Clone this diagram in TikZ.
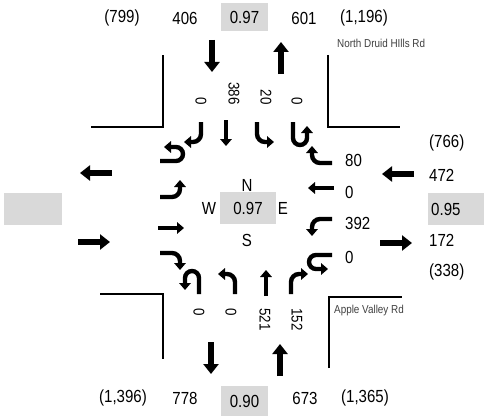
\documentclass[tikz,border=0pt]{standalone}
\usepackage{fontspec}
\setmainfont{Liberation Sans}[FakeStretch=0.86]
\usetikzlibrary{arrows.meta}

\begin{document}
\begin{tikzpicture}[x=1pt,y=1pt,
  move/.style={line width=4.4pt, -{Triangle[length=7pt,width=11.5pt]}},
  leg/.style={line width=6.5pt, -{Triangle[length=10pt,width=15pt]}},
  curb/.style={line width=1.4pt},
  lbl/.style={font=\fontsize{17.5}{20}\selectfont, inner sep=1pt},
  cnt/.style={font=\fontsize{15.5}{18}\selectfont, inner sep=1pt, rotate=-90},
  road/.style={font=\fontsize{11.5}{14}\selectfont, text=black!75, inner sep=0pt},
  phfbox/.style={lbl, fill=black!15, minimum height=30pt}]
\path[use as bounding box, fill=white] (0,0) rectangle (484,416);

% Curb corners
\draw[curb] (91,289) -- (163,289) -- (163,361);
\draw[curb] (328,361) -- (328,289) -- (400,289);
\draw[curb] (100,122) -- (163,122) -- (163,57);
\draw[curb] (329,48) -- (329,119) -- (402,119);

% North leg (southbound)
\begin{scope}[shift={(246,208)}]
  \draw[leg] (-34,168) -- (-34,136);
  \draw[leg] (35,134) -- (35,166);
  \draw[move, rounded corners=8pt] (-45,86) -- (-45,66) -- (-62,66);
  \draw[move] (-20,88) -- (-20,62);
  \draw[move, rounded corners=8pt] (11,86) -- (11,66) -- (28,66);
  \draw[move] (47,86) -- (47,70) arc[start angle=180, end angle=360, radius=7] -- (61,82);
\end{scope}

% East leg (westbound)
\begin{scope}[shift={(246,208)}, rotate=-90]
  \draw[leg] (-34,168) -- (-34,136);
  \draw[leg] (35,134) -- (35,166);
  \draw[move, rounded corners=8pt] (-45,86) -- (-45,66) -- (-62,66);
  \draw[move] (-20,88) -- (-20,62);
  \draw[move, rounded corners=8pt] (11,86) -- (11,66) -- (28,66);
  \draw[move] (47,86) -- (47,70) arc[start angle=180, end angle=360, radius=7] -- (61,82);
\end{scope}

% South leg (northbound)
\begin{scope}[shift={(246,208)}, rotate=180]
  \draw[leg] (-34,168) -- (-34,136);
  \draw[leg] (35,134) -- (35,166);
  \draw[move, rounded corners=8pt] (-45,86) -- (-45,66) -- (-62,66);
  \draw[move] (-20,88) -- (-20,62);
  \draw[move, rounded corners=8pt] (11,86) -- (11,66) -- (28,66);
  \draw[move] (47,86) -- (47,70) arc[start angle=180, end angle=360, radius=7] -- (61,82);
\end{scope}

% West leg (eastbound)
\begin{scope}[shift={(246,208)}, rotate=90]
  \draw[leg] (-34,168) -- (-34,136);
  \draw[leg] (35,134) -- (35,166);
  \draw[move, rounded corners=8pt] (-45,86) -- (-45,66) -- (-62,66);
  \draw[move] (-20,88) -- (-20,62);
  \draw[move, rounded corners=8pt] (11,86) -- (11,66) -- (28,66);
  \draw[move] (47,86) -- (47,70) arc[start angle=180, end angle=360, radius=7] -- (61,82);
\end{scope}

% Top volumes
\node[lbl] (nTot) at (122,398) {(799)};
\node[lbl] (nEnter) at (185,398) {406};
\node[phfbox, minimum width=47pt, minimum height=28pt] (nPhf) at (244.5,399) {0.97};
\node[lbl] (nExit) at (304,398) {601};
\node[lbl] (nTot2) at (364,398) {(1,196)};
\node[road, anchor=west] (nRoad) at (337,373) {North Druid HIlls Rd};

% Bottom volumes
\node[lbl] (sTot) at (123,18) {(1,396)};
\node[lbl] (sExit) at (185,18) {778};
\node[phfbox, minimum width=47pt] (sPhf) at (244.5,15) {0.90};
\node[lbl] (sEnter) at (305,18) {673};
\node[lbl] (sTot2) at (365,18) {(1,365)};
\node[road, anchor=west] (sRoad) at (334,105) {Apple Valley Rd};

% Right volumes
\node[lbl, anchor=west] (eTot) at (428,273) {(766)};
\node[lbl, anchor=west] (eEnter) at (428,241) {472};
\node[phfbox, anchor=west, text width=50pt, inner xsep=3pt, minimum height=32pt] (ePhf) at (428,207) {0.95};
\node[lbl, anchor=west] (eExit) at (428,176) {172};
\node[lbl, anchor=west] (eTot2) at (428,144) {(338)};

% Left
\node[phfbox, minimum width=58pt, minimum height=32pt] (wPhf) at (33,207) {};

% Centre
\node[phfbox, minimum width=56pt, minimum height=32pt] (cPhf) at (248,208) {0.97};
\node[lbl] (cN) at (247,231) {N};
\node[lbl] (cW) at (209,208) {W};
\node[lbl] (cE) at (283,208) {E};
\node[lbl] (cS) at (247,176) {S};

% Turning counts
\node[cnt, anchor=east] (nR) at (201,310) {0};
\node[cnt, anchor=east] (nT) at (234,310) {386};
\node[cnt, anchor=east] (nL) at (266,310) {20};
\node[cnt, anchor=east] (nU) at (297,310) {0};
\node[cnt, anchor=west] (sU) at (199,109) {0};
\node[cnt, anchor=west] (sL) at (231,109) {0};
\node[cnt, anchor=west] (sT) at (265,109) {521};
\node[cnt, anchor=west] (sR) at (297,109) {152};
\node[lbl, anchor=west] (eR) at (344,256) {80};
\node[lbl, anchor=west] (eT) at (344,224) {0};
\node[lbl, anchor=west] (eL) at (344,193) {392};
\node[lbl, anchor=west] (eU) at (344,159) {0};
\end{tikzpicture}
\end{document}
